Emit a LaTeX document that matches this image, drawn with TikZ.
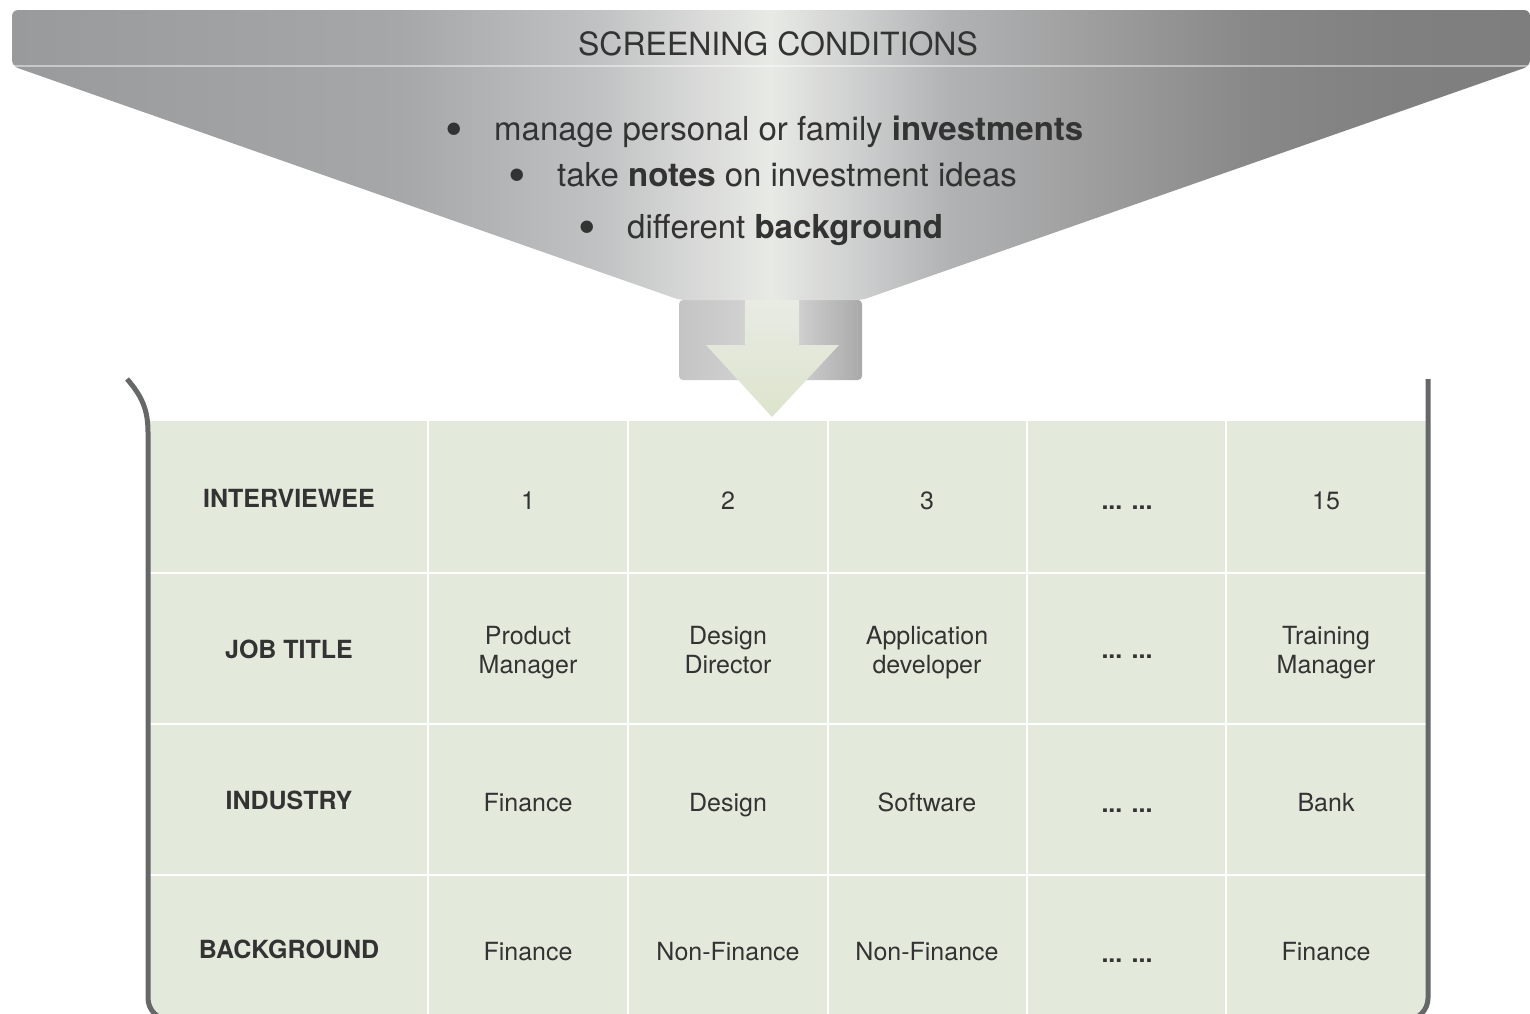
\documentclass[tikz,border=0pt]{standalone}
\usepackage{fontspec}
\setmainfont{TeX Gyre Heros}
\usepackage{xcolor}
\usetikzlibrary{positioning}

\definecolor{inkgray}{HTML}{333333}
\definecolor{bracketgray}{HTML}{666768}
\definecolor{cellgreen}{HTML}{E4EADB}
\definecolor{funA}{HTML}{999A9B}
\definecolor{funB}{HTML}{A6A7A8}
\definecolor{funC}{HTML}{C1C2C3}
\definecolor{funD}{HTML}{D9DAD9}
\definecolor{funE}{HTML}{E8EAE5}
\definecolor{funF}{HTML}{D0D1D1}
\definecolor{funG}{HTML}{B1B2B3}
\definecolor{funH}{HTML}{9D9D9E}
\definecolor{funI}{HTML}{888888}
\definecolor{funJ}{HTML}{808080}
\definecolor{funK}{HTML}{7E7E7E}
\definecolor{neckA}{HTML}{C4C4C4}
\definecolor{neckB}{HTML}{D0D0D0}
\definecolor{neckC}{HTML}{E4E6E0}
\definecolor{neckD}{HTML}{CBCBCB}
\definecolor{neckE}{HTML}{A9A9A9}
\definecolor{arrowtop}{HTML}{E9EBE4}
\definecolor{arrowbot}{HTML}{DCE4CC}

\pgfdeclarehorizontalshading{funnelshade}{100bp}{color(0bp)=(funA); color(25bp)=(funA);
  color(37.8bp)=(funB); color(44.4bp)=(funC); color(47.7bp)=(funD); color(50bp)=(funE);
  color(52.6bp)=(funF); color(55.9bp)=(funG); color(60.8bp)=(funH); color(65.8bp)=(funI);
  color(70.7bp)=(funJ); color(75bp)=(funK); color(100bp)=(funK)}
\pgfdeclarehorizontalshading{neckshade}{100bp}{color(0bp)=(neckA); color(25bp)=(neckA);
  color(41.7bp)=(neckB); color(50.4bp)=(neckC); color(59.4bp)=(neckD); color(75bp)=(neckE);
  color(100bp)=(neckE)}

\tikzset{
  cell/.style={font=\fontsize{25}{29}\selectfont, text=inkgray, align=center,
    execute at begin node=\strut, execute at end node=\strut},
  rowlabel/.style={cell, font=\fontsize{25}{29}\selectfont\bfseries},
  moredots/.style={cell, font=\fontsize{25}{29}\selectfont\bfseries},
  condtext/.style={anchor=base west, inner sep=0pt, font=\fontsize{33}{39}\selectfont, text=inkgray},
  conddot/.style={anchor=center, inner sep=0pt, font=\fontsize{50}{50}\selectfont, text=inkgray},
  bracket/.style={draw=bracketgray, line width=5pt},
  gridline/.style={draw=white, line width=1.5pt}
}

\begin{document}
\begin{tikzpicture}[x=1pt, y=-1pt]
    \clip (0,0) rectangle (1530,1013);

    % Funnel with neck and arrow
    \shade[shading=neckshade, rounded corners=4] (679,300) rectangle (862,380);
    \shade[shading=funnelshade, rounded corners=6]
        (1530,10) -- (12,10) -- (12,66) -- (680,300) -- (862,300) -- (1530,66) -- cycle;
    \draw[white, opacity=0.45, line width=1.2pt] (14,66) -- (1530,66);
    \shade[top color=arrowtop, bottom color=arrowbot]
        (745,300) -- (799,300) -- (799,345) -- (839,345) -- (772,417)
        -- (706,345) -- (745,345) -- cycle;

    \node[font=\fontsize{32}{38}\selectfont, text=inkgray] (title) at (778,44) {SCREENING CONDITIONS};

    \node[conddot] (dot-inv) at (454,135) {\textbullet};
    \node[condtext] (cond-inv) at (494,140) {manage personal or family \textbf{investments}};
    \node[conddot] (dot-notes) at (517,181) {\textbullet};
    \node[condtext] (cond-notes) at (557,186) {take \textbf{notes} on investment ideas};
    \node[conddot] (dot-bg) at (587,233) {\textbullet};
    \node[condtext] (cond-bg) at (627,238) {different \textbf{background}};

    % Table
    \fill[cellgreen] (150,421) rectangle (1426,1000);
    \fill[cellgreen, rounded corners=20] (150,980) rectangle (1426,1020);
    \foreach \x in {428,628,828,1027,1226}
        \draw[gridline] (\x,421) -- (\x,1020);
    \foreach \y in {573,724,875}
        \draw[gridline] (150,\y) -- (1426,\y);

    \draw[bracket] (127,379) .. controls (142,396) and (148,410) .. (148,432);
    \draw[bracket, rounded corners=22] (148,432) -- (148,1020) -- (1428,1020) -- (1428,379);

    \node[rowlabel] (hd-id) at (289,501.2) {INTERVIEWEE};
    \node[cell] (id-1) at (528,503.7) {1};
    \node[cell] (id-2) at (728,503.7) {2};
    \node[cell] (id-3) at (927,503.7) {3};
    \node[moredots] (id-more) at (1127,503.7) {... ...};
    \node[cell] (id-15) at (1326,503.7) {15};

    \node[rowlabel] (hd-job) at (289,652.2) {JOB TITLE};
    \node[cell] (job-1) at (528,654.7) {Product\\Manager};
    \node[cell] (job-2) at (728,654.7) {Design\\Director};
    \node[cell] (job-3) at (927,654.7) {Application\\developer};
    \node[moredots] (job-more) at (1127,652.2) {... ...};
    \node[cell] (job-15) at (1326,654.7) {Training\\Manager};

    \node[rowlabel] (hd-ind) at (289,803.2) {INDUSTRY};
    \node[cell] (ind-1) at (528,805.2) {Finance};
    \node[cell] (ind-2) at (728,805.2) {Design};
    \node[cell] (ind-3) at (927,805.2) {Software};
    \node[moredots] (ind-more) at (1127,806.2) {... ...};
    \node[cell] (ind-15) at (1326,805.2) {Bank};

    \node[rowlabel] (hd-bg) at (289,952.2) {BACKGROUND};
    \node[cell] (bg-1) at (528,954.7) {Finance};
    \node[cell] (bg-2) at (728,954.7) {Non-Finance};
    \node[cell] (bg-3) at (927,954.7) {Non-Finance};
    \node[moredots] (bg-more) at (1127,956.2) {... ...};
    \node[cell] (bg-15) at (1326,954.7) {Finance};
\end{tikzpicture}
\end{document}
